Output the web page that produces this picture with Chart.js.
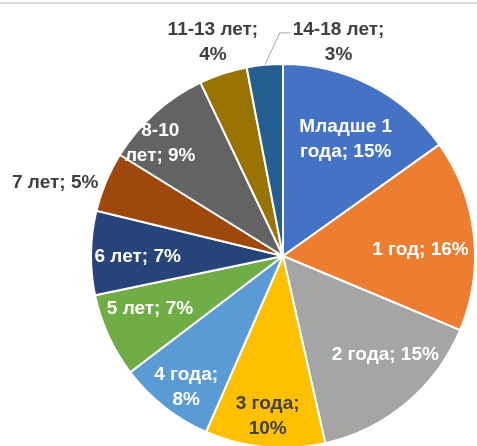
<!DOCTYPE html>
<html>
<head>
<meta charset="utf-8">
<script src="https://cdn.jsdelivr.net/npm/chart.js@4/dist/chart.umd.min.js"></script>
<style>
  html, body { margin: 0; padding: 0; background: #fff; overflow: hidden; width: 477px; height: 446px; }
  #topline { position: absolute; left: 0; top: 2px; width: 477px; height: 2px; background: #d9d9d9; }
  #wrap { position: absolute; left: 0; top: 0; width: 477px; height: 452px; }
</style>
</head>
<body>
<div id="topline"></div>
<div id="wrap"><canvas id="c"></canvas></div>
<script>
// ---- data ----
const categories = ['Младше 1 года', '1 год', '2 года', '3 года', '4 года', '5 лет', '6 лет', '7 лет', '8-10 лет', '11-13 лет', '14-18 лет'];
const shares = [15, 16, 15, 10, 8, 7, 7, 5, 9, 4, 3];

// ---- styles ----
const sliceColors = ['#4472C4', '#ED7D31', '#A5A5A5', '#FFC000', '#5B9BD5', '#70AD47', '#264478', '#9E480E', '#636363', '#997300', '#255E91'];
const darkText = '#404040';
const labelFont = 'bold 19px "Liberation Sans", Arial, sans-serif';
const lineHeight = 25;
// label placement: r = fraction of radius along the slice bisector, dx/dy nudges,
// brk = number of words on the first line (0 = single line), dark = dark text
const labelLayout = [
  { r: 0.69, dx: 2, dy: 1, brk: 2, dark: false },
  { r: 0.715, dx: 1, dy: 9, brk: 0, dark: false },
  { r: 0.74, dx: 11, dy: -10, brk: 0, dark: false },
  { r: 0.84, dx: 0, dy: 0, brk: 2, dark: true },
  { r: 0.85, dx: 4, dy: 3, brk: 2, dark: false },
  { r: 0.75, dx: -2, dy: -7, brk: 0, dark: false },
  { r: 0.757, dx: 0, dy: 3, brk: 0, dark: false },
  { r: 1.247, dx: -7, dy: 19, brk: 0, dark: true },
  { r: 0.865, dx: -12, dy: 11, brk: 1, dark: false },
  { r: 1.17, dx: 0, dy: 0, brk: 2, dark: true },
  { r: 1.12, dx: 76, dy: 0, brk: 2, dark: true, leader: true }
];

const labelPlugin = {
  id: 'sliceLabels',
  afterDatasetsDraw(chart) {
    const ctx = chart.ctx;
    const meta = chart.getDatasetMeta(0);
    ctx.save();
    ctx.font = labelFont;
    ctx.textAlign = 'center';
    ctx.textBaseline = 'middle';
    meta.data.forEach((arc, i) => {
      const p = arc.getProps(['x', 'y', 'startAngle', 'endAngle', 'outerRadius'], true);
      const mid = (p.startAngle + p.endAngle) / 2;
      const L = labelLayout[i];
      const ax = p.x + Math.cos(mid) * p.outerRadius * L.r + L.dx;
      const ay = p.y + Math.sin(mid) * p.outerRadius * L.r + L.dy;
      const text = categories[i] + '; ' + shares[i] + '%';
      const words = text.split(' ');
      const lines = L.brk ? [words.slice(0, L.brk).join(' '), words.slice(L.brk).join(' ')] : [text];
      ctx.fillStyle = L.dark ? darkText : '#ffffff';
      const top = ay - (lines.length - 1) * lineHeight / 2;
      lines.forEach((ln, k) => ctx.fillText(ln, ax, top + k * lineHeight));
      if (L.leader) {
        const w = Math.max(...lines.map(l => ctx.measureText(l).width));
        const sx = p.x + Math.cos(mid) * p.outerRadius;
        const sy = p.y + Math.sin(mid) * p.outerRadius;
        const ex = ax - w / 2 - 3, ey = ay - 9;
        ctx.beginPath();
        ctx.strokeStyle = '#a6a6a6';
        ctx.lineWidth = 1;
        ctx.moveTo(sx, sy);
        ctx.lineTo(ex - 10, ey);
        ctx.lineTo(ex, ey);
        ctx.stroke();
      }
    });
    ctx.restore();
  }
};

new Chart(document.getElementById('c'), {
  type: 'pie',
  data: {
    labels: categories,
    datasets: [{
      data: shares,
      backgroundColor: sliceColors,
      borderColor: '#ffffff',
      borderWidth: 2,
      offset: 0,
      hoverOffset: 0
    }]
  },
  options: {
    responsive: true,
    maintainAspectRatio: false,
    animation: false,
    layout: { padding: { left: 90, right: 1, top: 63, bottom: 3 } },
    plugins: { legend: { display: false }, tooltip: { enabled: false } }
  },
  plugins: [labelPlugin]
});
</script>
</body>
</html>
